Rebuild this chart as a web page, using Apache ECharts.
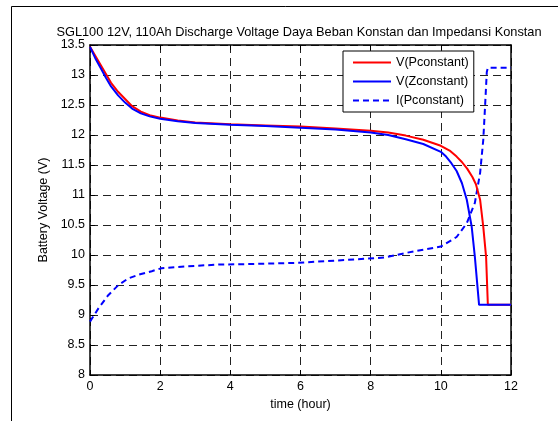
<!DOCTYPE html>
<html>
<head>
<meta charset="utf-8">
<script src="https://cdn.jsdelivr.net/npm/echarts@6/dist/echarts.min.js"></script>
<style>html,body{margin:0;padding:0;background:#fff}#c{width:558px;height:421px}</style>
</head>
<body>
<div id="c"></div>
<script>
var titleText = 'SGL100 12V, 110Ah Discharge Voltage Daya Beban Konstan dan Impedansi Konstan';
var xName = 'time (hour)';
var yName = 'Battery Voltage (V)';
var seriesNames = ['V(Pconstant)', 'V(Zconstant)', 'I(Pconstant)'];

var timeP = [0,0.15,0.3,0.45,0.6,0.8,1.0,1.2,1.45,1.7,2,2.5,3,4,5,6,7,8,8.5,9,9.5,10,10.25,10.45,10.6,10.75,10.9,11.0,11.12,11.21,11.29,11.34,12];
var voltP = [13.47,13.32,13.17,13.02,12.87,12.72,12.6,12.48,12.39,12.33,12.29,12.24,12.21,12.18,12.16,12.14,12.11,12.07,12.04,11.99,11.92,11.82,11.74,11.64,11.55,11.44,11.3,11.18,10.92,10.47,9.97,9.17,9.17];

var timeZ = [0,0.15,0.3,0.45,0.6,0.8,1.0,1.2,1.45,1.7,2,2.5,3,4,5,6,7,8,8.5,9,9.5,10,10.15,10.3,10.45,10.6,10.74,10.88,10.97,11.09,12];
var voltZ = [13.47,13.28,13.12,12.96,12.81,12.66,12.54,12.44,12.36,12.31,12.27,12.23,12.2,12.17,12.15,12.12,12.09,12.04,12.0,11.93,11.85,11.72,11.64,11.53,11.4,11.2,10.92,10.47,9.97,9.17,9.17];

var timeI = [0,0.24,0.52,0.81,1.09,1.38,1.76,2.04,2.71,3.66,4.61,5.94,7.08,7.93,8.4,9.22,10,10.45,10.74,10.97,11.12,11.21,11.26,11.31,11.34,12];
var currI = [8.89,9.11,9.33,9.5,9.61,9.67,9.73,9.78,9.81,9.84,9.85,9.87,9.91,9.94,9.96,10.06,10.14,10.3,10.53,10.87,11.37,11.92,12.47,13.05,13.12,13.12];

function pairs(xs, ys) { return xs.map(function (x, i) { return [x, ys[i]]; }); }

var FONT = 'Liberation Sans, Arial, sans-serif';
var chart = echarts.init(document.getElementById('c'), null, { renderer: 'canvas' });

var tickStyle = { show: true, inside: true, length: 5, lineStyle: { color: '#000', width: 1 } };
var gridLine = { show: true, lineStyle: { color: '#222', width: 1, type: [8, 5] } };

chart.setOption({
  animation: false,
  backgroundColor: '#fff',
  textStyle: { fontFamily: FONT },
  title: {
    text: titleText,
    left: 294, top: 21, textAlign: 'center',
    textStyle: { fontFamily: FONT, fontSize: 12.8, fontWeight: 'normal', color: '#000' }
  },
  graphic: [{
    type: 'rect', shape: { x: 11.5, y: 6.5, width: 600, height: 500 },
    style: { fill: null, stroke: '#000', lineWidth: 1 }, silent: true, z: -1
  }],
  legend: {
    orient: 'vertical', left: 343, top: 51,
    backgroundColor: '#fff', borderColor: '#000', borderWidth: 1,
    padding: [5, 5, 5, 9], itemGap: 6, itemWidth: 38, itemHeight: 12,
    itemStyle: { opacity: 0 },
    textStyle: { fontFamily: FONT, fontSize: 12.6, color: '#000' },
    data: seriesNames
  },
  grid: { left: 90, top: 45, right: 47, bottom: 46 },
  xAxis: [{
    type: 'value', min: 0, max: 12, interval: 2,
    name: xName, nameLocation: 'middle', nameGap: 21,
    nameTextStyle: { fontFamily: FONT, fontSize: 12.5, color: '#000' },
    axisLine: { show: true, onZero: false, lineStyle: { color: '#000', width: 1.5 } },
    axisTick: tickStyle,
    axisLabel: { fontFamily: FONT, fontSize: 12.5, color: '#000', margin: 5 },
    splitLine: gridLine
  }, {
    type: 'value', min: 0, max: 12, interval: 2, position: 'top',
    axisLine: { show: true, onZero: false, lineStyle: { color: '#000', width: 1.5 } },
    axisTick: tickStyle, axisLabel: { show: false }, splitLine: { show: false }
  }],
  yAxis: [{
    type: 'value', min: 8, max: 13.5, interval: 0.5,
    name: yName, nameLocation: 'middle', nameGap: 35, nameRotate: 90,
    nameTextStyle: { fontFamily: FONT, fontSize: 12.5, color: '#000' },
    axisLine: { show: true, onZero: false, lineStyle: { color: '#000', width: 1.5 } },
    axisTick: tickStyle,
    axisLabel: { fontFamily: FONT, fontSize: 12.5, color: '#000', margin: 5 },
    splitLine: gridLine
  }, {
    type: 'value', min: 8, max: 13.5, interval: 0.5, position: 'right',
    axisLine: { show: true, onZero: false, lineStyle: { color: '#000', width: 1.5 } },
    axisTick: tickStyle, axisLabel: { show: false }, splitLine: { show: false }
  }],
  series: [{
    name: seriesNames[0], type: 'line', symbol: 'none', smooth: false,
    data: pairs(timeP, voltP), z: 4,
    itemStyle: { color: '#ff0000' },
    lineStyle: { color: '#ff0000', width: 2 }
  }, {
    name: seriesNames[1], type: 'line', symbol: 'none', smooth: false,
    data: pairs(timeZ, voltZ), z: 5,
    itemStyle: { color: '#0000ff' },
    lineStyle: { color: '#0000ff', width: 2 }
  }, {
    name: seriesNames[2], type: 'line', symbol: 'none', smooth: false,
    data: pairs(timeI, currI), z: 3,
    itemStyle: { color: '#0000ff' },
    lineStyle: { color: '#0000ff', width: 2, type: [6, 4] }
  }]
});
</script>
</body>
</html>
